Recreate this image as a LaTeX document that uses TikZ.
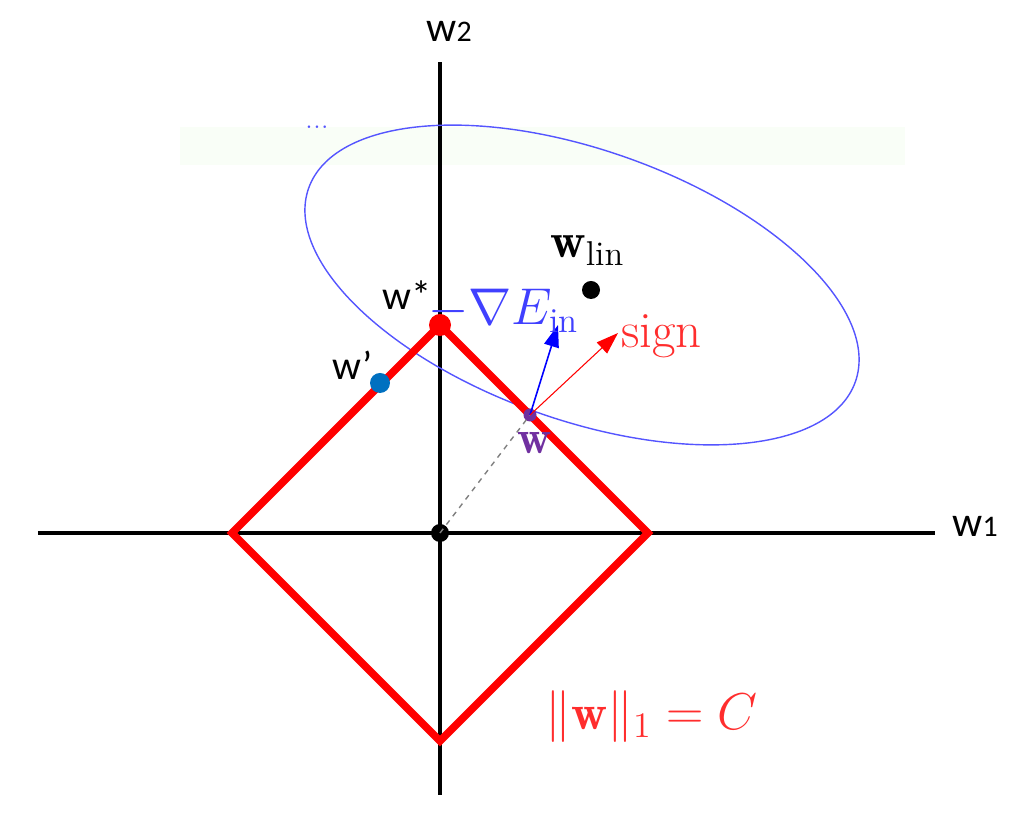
\documentclass[tikz,border=0pt]{standalone}
\usepackage{fontspec}
\usepackage{amsmath}
\usetikzlibrary{positioning,arrows.meta,calc}
\newfontfamily\calibri{Carlito}
\definecolor{NormRed}{RGB}{255,0,0}
\definecolor{LabelRed}{RGB}{255,45,45}
\definecolor{EllipseBlue}{RGB}{85,85,255}
\definecolor{GradBlue}{RGB}{0,0,255}
\definecolor{PointBlue}{RGB}{0,112,192}
\definecolor{PointPurple}{RGB}{112,48,160}
\definecolor{FaintBand}{RGB}{249,254,247}
\newcommand{\bigfont}[1]{\fontsize{#1}{#1}\selectfont}
\newcommand{\bigmath}[2]{\scalebox{#1}{\fontsize{20}{24}\selectfont$#2$}}

\begin{document}
\begin{tikzpicture}[
  axis/.style={line width=2pt, black},
  dot/.style={circle, fill, inner sep=0pt, minimum size=#1},
  sanslabel/.style={font=\calibri\bigfont{23}, inner sep=0pt, anchor=base west},
  mathlabel/.style={inner sep=0pt, anchor=base west},
  vec/.style={-{Triangle[length=0.44cm, width=0.3cm]}}]
  \useasboundingbox (-8.8,-5.66) rectangle (11.44,10.66);
  \fill[FaintBand] (-5.2,7.36) rectangle (9.3,8.12);
  % axes
  \coordinate (xleft) at (-8.04,0);
  \coordinate (xright) at (9.9,0);
  \coordinate (ytop) at (0,9.42);
  \coordinate (ybottom) at (0,-5.24);
  \draw[axis] (xleft) -- (xright);
  \draw[axis] (ybottom) -- (ytop);
  \node[sanslabel, font=\calibri\bigfont{24}] (w1label) at (10.24,-0.08) {w{\bigfont{17}1}};
  \node[sanslabel, font=\calibri\bigfont{24}] (w2label) at (-0.28,9.82) {w{\bigfont{17}2}};
  % error contour
  \draw[EllipseBlue, line width=0.8pt, rotate around={-19.5:(2.84,4.96)}] (2.84,4.96) ellipse (5.8cm and 2.7cm);
  % constraint region
  \coordinate (dright) at (4.16,0);
  \coordinate (dtop) at (0,4.16);
  \coordinate (dleft) at (-4.16,0);
  \coordinate (dbottom) at (0,-4.16);
  \draw[NormRed, line width=4.3pt, line join=miter] (dright) -- (dtop) -- (dleft) -- (dbottom) -- cycle;
  % points
  \node[dot=0.36cm, fill=black] (origin) at (0,0) {};
  \node[dot=0.26cm, fill=PointPurple] (wpt) at (1.8,2.36) {};
  \node[dot=0.44cm, fill=red] (wstar) at (dtop) {};
  \node[dot=0.40cm, fill=PointBlue] (wprime) at (-1.2,3.0) {};
  \node[dot=0.36cm, fill=black] (wlin) at (3.02,4.86) {};
  \coordinate (gradtip) at (2.36,4.16);
  \coordinate (signtip) at (3.56,4.0);
  \draw[gray, dashed, line width=0.8pt] (origin.center) -- (wpt.center);
  \draw[vec, GradBlue, line width=0.9pt] (wpt.center) -- (gradtip);
  \draw[vec, red, line width=0.6pt] (wpt.center) -- (signtip);
  % labels
  \node[sanslabel] (wstarlabel) at (-1.16,4.46) {w*};
  \node[sanslabel] (wprimelabel) at (-2.16,3.06) {w’};
  \node[mathlabel, text=PointPurple] (wlabel) at (1.54,1.58) {\bigmath{1.35}{\mathbf{w}}};
  \node[mathlabel] (wlinlabel) at (2.2,5.5) {\bigmath{1.4}{\mathbf{w}_{\text{lin}}}};
  \node[mathlabel, text=GradBlue!75!white] (gradlabel) at (-0.24,4.16) {\bigmath{1.42}{-\nabla E_{\text{in}}}};
  \node[mathlabel, text=LabelRed] (signlabel) at (3.62,3.7) {\bigmath{1.45}{\text{sign}}};
  \node[mathlabel, text=LabelRed] (normlabel) at (2.1,-3.94) {\bigmath{1.42}{\|\mathbf{w}\|_1 = C}};
  \node[inner sep=0pt, text=EllipseBlue, font=\bigfont{18}] (dots) at (-2.46,8.12) {...};
\end{tikzpicture}
\end{document}
